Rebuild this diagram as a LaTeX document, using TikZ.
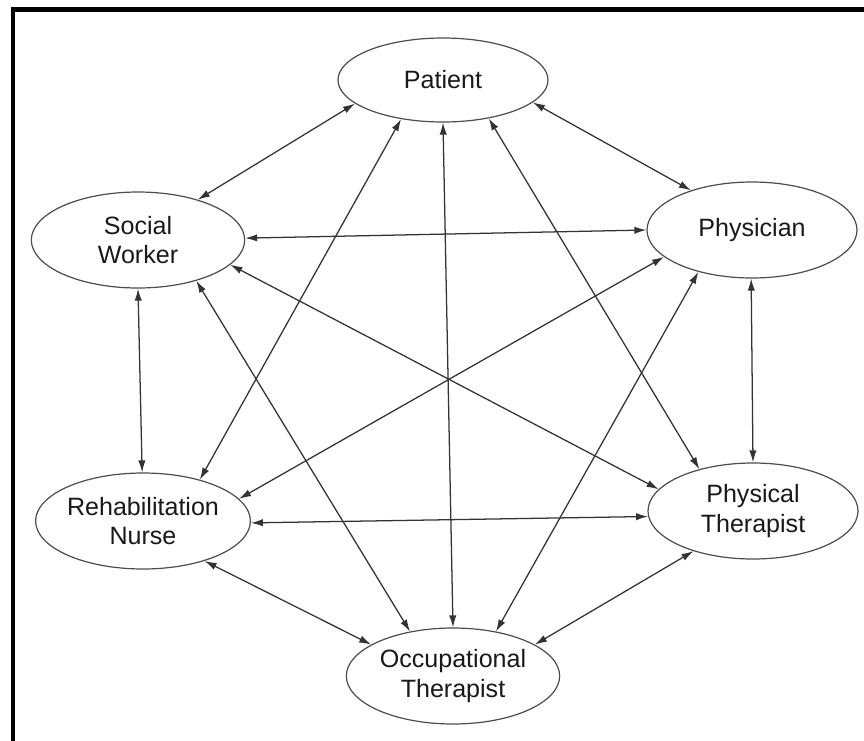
\documentclass[tikz,border=0pt]{standalone}
\usepackage{fontspec}
\setmainfont{Liberation Sans}
\usetikzlibrary{shapes.geometric,arrows.meta}

\tikzset{
  role/.style={ellipse, draw=black!70, line width=0.9pt, inner sep=0pt,
    align=center, text=black!90, font=\fontsize{18.8}{21.8}\selectfont},
  wide/.style={minimum width=160pt, minimum height=72pt},
  link/.style={draw=black!80, line width=0.95pt,
    {Latex[length=9pt,width=5.5pt]}-{Latex[length=9pt,width=5.5pt]}},
}

\begin{document}
\begin{tikzpicture}[x=0.75pt, y=-0.75pt]
  \useasboundingbox (0,0) rectangle (864,740);
  \begin{scope}
    \clip (0,0) rectangle (864,740);
    \draw[line width=3.2pt] (13,9.5) rectangle (900,780);
  \end{scope}

  % the six members of the team
  \node[role, minimum width=157.5pt, minimum height=63pt] (pat) at (443,80) {Patient};
  \node[role, wide] (sw)  at (138,240) {Social\\Worker};
  \node[role, minimum width=157.5pt, minimum height=72pt] (phy) at (752,230) {Physician};
  \node[role, wide] (rn)  at (143,521) {Rehabilitation\\Nurse};
  \node[role, minimum width=157.5pt, minimum height=72pt] (pt)  at (753,511) {Physical\\Therapist};
  \node[role, wide] (ot)  at (453,676) {Occupational\\Therapist};

  % every pair communicates both ways
  \path[link] (pat.195.9) -- (sw.34.7);
  \path[link] (pat.223.1) -- (rn.36.3);
  \path[link] (pat.270)   -- (ot.90);
  \path[link] (pat.320.8) -- (pt.142);
  \path[link] (pat.346.3) -- (phy.147.2);

  \path[link] (sw.1.6)    -- (phy.180);
  \path[link] (sw.345.3)  -- (pt.167.5);
  \path[link] (sw.325.9)  -- (ot.134.3);
  \path[link] (sw.270)    -- (rn.91);

  \path[link] (phy.197.1) -- (rn.13.3);
  \path[link] (phy.218.3) -- (ot.46.2);
  \path[link] (phy.269)   -- (pt.90);

  \path[link] (rn.359.5)  -- (pt.183);
  \path[link] (rn.327.8)  -- (ot.159.5);

  \path[link] (pt.214.5)  -- (ot.21.8);
\end{tikzpicture}
\end{document}
